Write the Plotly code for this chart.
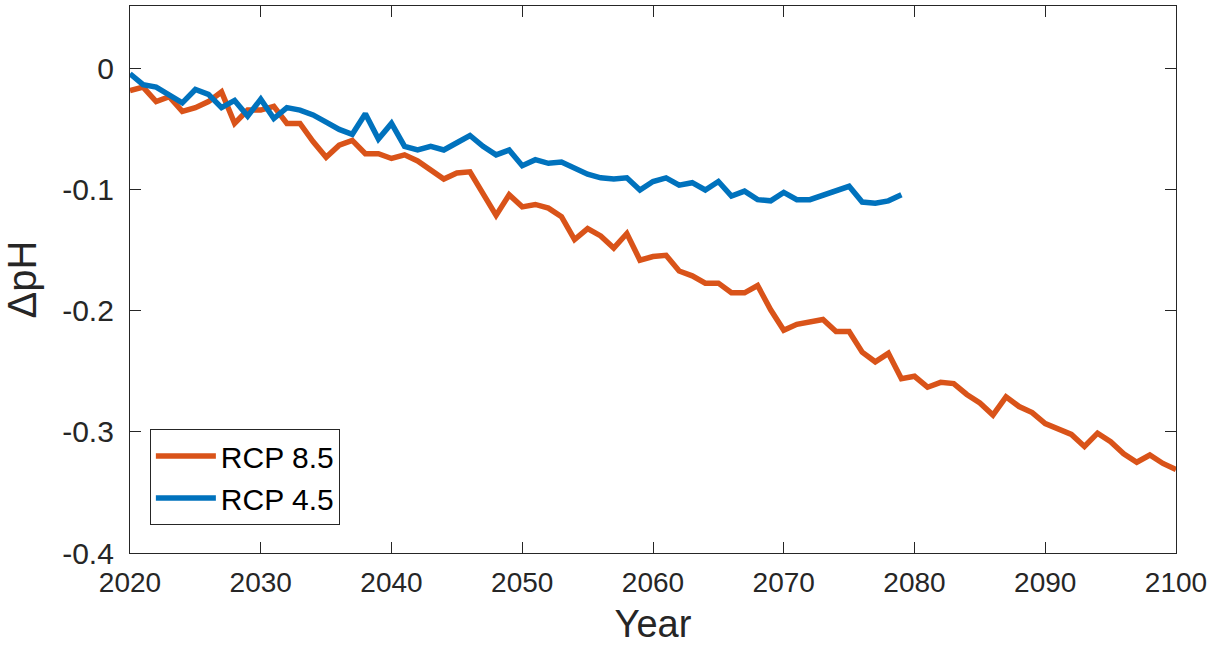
import plotly.graph_objects as go

years_85 = list(range(2020, 2101))
rcp85 = [
    -0.018, -0.015, -0.027, -0.023, -0.035, -0.032, -0.027, -0.019, -0.045, -0.034,
    -0.034, -0.031, -0.045, -0.045, -0.060, -0.073, -0.063, -0.059, -0.070, -0.070,
    -0.074, -0.071, -0.076, -0.083, -0.091, -0.086, -0.085, -0.103, -0.121, -0.104,
    -0.114, -0.112, -0.115, -0.122, -0.141, -0.132, -0.138, -0.148, -0.136, -0.158,
    -0.155, -0.154, -0.167, -0.171, -0.177, -0.177, -0.185, -0.185, -0.179, -0.199,
    -0.216, -0.211, -0.209, -0.207, -0.217, -0.217, -0.234, -0.242, -0.235, -0.256,
    -0.254, -0.263, -0.259, -0.260, -0.269, -0.276, -0.286, -0.271, -0.279, -0.284,
    -0.293, -0.298, -0.302, -0.312, -0.301, -0.308, -0.318, -0.325, -0.319, -0.326,
    -0.331,
]

years_45 = list(range(2020, 2080))
rcp45 = [
    -0.004, -0.013, -0.015, -0.021, -0.028, -0.017, -0.021, -0.032, -0.026, -0.039,
    -0.025, -0.041, -0.032, -0.034, -0.038, -0.044, -0.050, -0.054, -0.037, -0.058,
    -0.045, -0.064, -0.067, -0.064, -0.067, -0.061, -0.055, -0.064, -0.071, -0.067,
    -0.080, -0.075, -0.078, -0.077, -0.082, -0.087, -0.090, -0.091, -0.090, -0.100,
    -0.093, -0.090, -0.096, -0.094, -0.100, -0.093, -0.105, -0.101, -0.108, -0.109,
    -0.102, -0.108, -0.108, -0.104, -0.101, -0.097, -0.110, -0.111, -0.109, -0.104,
]

x_ticks = [2020, 2030, 2040, 2050, 2060, 2070, 2080, 2090, 2100]
y_ticks = [0, -0.1, -0.2, -0.3, -0.4]
y_tick_labels = ["0", "-0.1", "-0.2", "-0.3", "-0.4"]

FONT = "Liberation Sans, Arial, Helvetica, sans-serif"

fig = go.Figure()
fig.add_trace(go.Scatter(x=years_85, y=rcp85, mode="lines", name="RCP 8.5",
                         line=dict(color="#D95319", width=5.5)))
fig.add_trace(go.Scatter(x=years_45, y=rcp45, mode="lines", name="RCP 4.5",
                         line=dict(color="#0072BD", width=5.5)))

axis_common = dict(
    showline=True, linecolor="#262626", linewidth=1.2, mirror="ticks",
    ticks="inside", ticklen=11, tickwidth=1.2, tickcolor="#262626",
    showgrid=False, zeroline=False, automargin=False, ticklabeloverflow="allow",
)

fig.update_layout(
    width=1208, height=645,
    margin=dict(l=130, r=32, t=6, b=92),
    plot_bgcolor="white", paper_bgcolor="white",
    xaxis=dict(range=[2020, 2100], tickvals=x_ticks,
               tickfont=dict(family=FONT, size=28, color="#262626"),
               title=dict(text="Year", font=dict(family=FONT, size=38, color="#262626"), standoff=14),
               ticklabelstandoff=4, **axis_common),
    yaxis=dict(range=[-0.4, 0.052], tickvals=y_ticks, ticktext=y_tick_labels,
               tickfont=dict(family=FONT, size=30, color="#262626"),
               title=dict(text="ΔpH", font=dict(family=FONT, size=40, color="#262626"), standoff=14),
               ticklabelstandoff=9, **axis_common),
    legend=dict(x=0.019, y=0.051, xanchor="left", yanchor="bottom",
                bgcolor="white", bordercolor="#262626", borderwidth=1,
                font=dict(family=FONT, size=30, color="black"),
                itemwidth=60, tracegroupgap=0),
    showlegend=True,
)

fig.write_html("out.html")
